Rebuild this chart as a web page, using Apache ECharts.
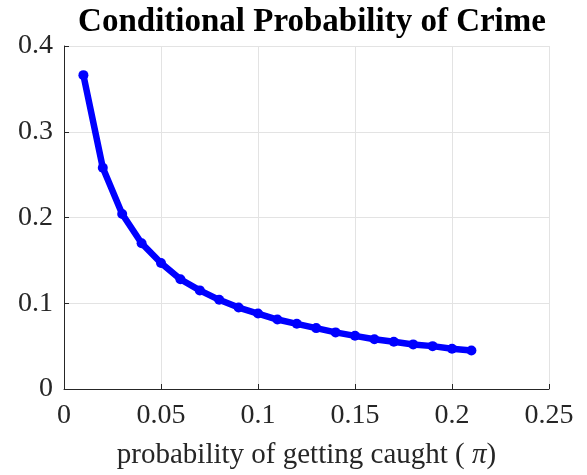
<!DOCTYPE html>
<html>
<head>
<meta charset="utf-8">
<script src="https://cdn.jsdelivr.net/npm/echarts@6/dist/echarts.min.js"></script>
<style>
  html, body { margin: 0; padding: 0; background: #fff; }
  #container { width: 587px; height: 475px; }
</style>
</head>
<body>
<div id="container"></div>
<script>
var catchProb = [0.01, 0.02, 0.03, 0.04, 0.05, 0.06, 0.07, 0.08, 0.09, 0.10, 0.11,
                 0.12, 0.13, 0.14, 0.15, 0.16, 0.17, 0.18, 0.19, 0.20, 0.21];
var crimeProb = [0.366, 0.258, 0.204, 0.170, 0.147, 0.128, 0.115, 0.104, 0.095, 0.088, 0.081,
                 0.076, 0.071, 0.066, 0.062, 0.058, 0.055, 0.052, 0.050, 0.047, 0.045];
var xTicks = [0, 0.05, 0.1, 0.15, 0.2, 0.25];
var yTicks = [0, 0.1, 0.2, 0.3, 0.4];

window.onload = function () {
    var myChart = echarts.init(document.getElementById("container"));
    var serif = "'Liberation Serif', 'DejaVu Serif', serif";
    var points = catchProb.map(function (x, i) { return [x, crimeProb[i]]; });
    var option = {
        animation: false,
        textStyle: { fontFamily: serif },
        title: {
            text: "Conditional Probability of Crime",
            left: 307,
            top: 1,
            textAlign: 'center',
            textStyle: { fontFamily: serif, fontWeight: 'bold', fontSize: 33, color: '#000' }
        },
        grid: { left: 64, right: 38, top: 46, bottom: 86 },
        xAxis: {
            type: 'value',
            min: xTicks[0],
            max: xTicks[xTicks.length - 1],
            interval: 0.05,
            name: 'probability of getting caught ( {i|π})',
            nameLocation: 'middle',
            nameGap: 52,
            nameTextStyle: {
                fontFamily: serif, fontSize: 29, color: '#262626',
                rich: { i: { fontFamily: serif, fontStyle: 'italic', fontSize: 29, color: '#262626' } }
            },
            axisLine: { show: true, lineStyle: { color: '#262626', width: 1 } },
            axisTick: { show: true, inside: true, length: 5, lineStyle: { color: '#262626' } },
            axisLabel: { fontFamily: serif, fontSize: 28, color: '#262626', margin: 13 },
            splitLine: { show: true, lineStyle: { color: '#e3e3e3', width: 1 } }
        },
        yAxis: {
            type: 'value',
            min: yTicks[0],
            max: yTicks[yTicks.length - 1],
            interval: 0.1,
            axisLine: { show: true, lineStyle: { color: '#262626', width: 1 } },
            axisTick: { show: true, inside: true, length: 5, lineStyle: { color: '#262626' } },
            axisLabel: { fontFamily: serif, fontSize: 28, color: '#262626', margin: 11 },
            splitLine: { show: true, lineStyle: { color: '#e3e3e3', width: 1 } }
        },
        series: [{
            type: 'line',
            data: points,
            symbol: 'circle',
            symbolSize: 10,
            lineStyle: { color: '#0000ff', width: 6.5 },
            itemStyle: { color: '#0000ff' }
        }]
    };
    myChart.setOption(option);
};
</script>
</body>
</html>
